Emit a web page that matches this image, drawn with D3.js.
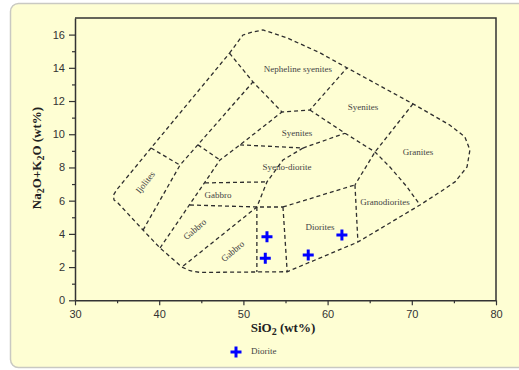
<!DOCTYPE html>
<html>
<head>
<meta charset="utf-8">
<script src="https://cdn.jsdelivr.net/npm/d3@7"></script>
<style>
  body { margin: 0; background: #fff; }
  svg { display: block; }
</style>
</head>
<body>
<div id="chart"></div>
<script>
// Tick values
const xMajor = [30, 40, 50, 60, 70, 80];
const xMinor = [35, 45, 55, 65, 75];
const yMajor = [0, 2, 4, 6, 8, 10, 12, 14, 16];
const yMinor = [1, 3, 5, 7, 9, 11, 13, 15];

// Diorite samples (SiO2, Na2O+K2O)
const dioriteSiO2 = [52.8, 52.6, 57.7, 61.7];
const dioriteAlk = [3.83, 2.53, 2.73, 3.93];

// Field boundaries, [SiO2, Na2O+K2O] pairs
const outerBoundary = [
  [48.35, 14.88], [49.95, 15.98], [51.1, 16.16], [52.33, 16.28], [55.2, 15.8],
  [59.1, 14.9], [62.3, 14.0], [70.14, 11.83], [74.5, 10.56], [76.3, 9.84],
  [76.9, 9.05], [76.56, 8.03], [75.13, 7.13], [73.35, 6.52], [70.97, 5.74],
  [63.6, 3.51], [55.2, 1.72], [44.85, 1.68], [43.66, 1.78], [42.7, 2.0],
  [40.1, 3.15], [38.08, 4.23], [35.1, 5.86], [34.63, 6.04], [34.57, 6.34],
  [34.93, 6.64], [39.03, 9.17], [48.35, 14.88]
];
const ijoliteRight = [[38.08, 4.23], [42.47, 8.14], [51.14, 13.15]];
const ijoliteTop = [[39.03, 9.17], [42.47, 8.14]];
const shortTie = [[44.6, 9.36], [47.22, 8.45]];
const gabbroLeft = [[40.1, 3.15], [47.22, 8.45], [49.6, 9.36], [54.58, 11.34]];
const nephelineBase = [[48.35, 14.88], [51.14, 13.15], [54.58, 11.34], [57.9, 11.46], [62.3, 14.0]];
const syeniteGranite = [[57.9, 11.46], [62.07, 10.06], [65.63, 8.93], [67.4, 8.03], [69.43, 6.83], [70.97, 5.74]];
const graniteLeft = [[70.14, 11.83], [65.63, 8.93], [63.25, 6.95]];
const granodioriteLeft = [[63.25, 6.95], [63.6, 3.51]];
const dioriteTop = [[54.7, 5.62], [63.25, 6.95]];
const dioriteLeft = [[54.7, 5.62], [55.2, 1.72]];
const gabbroDioriteLeft = [[51.6, 5.62], [51.6, 1.7]];
const gabbroBase = [[43.66, 5.74], [51.6, 5.62], [54.7, 5.62]];
const gabbroTop = [[45.44, 7.07], [52.8, 7.13]];
const syenodioriteRight = [[57.08, 9.17], [54.7, 8.45], [52.8, 7.13], [51.6, 5.62], [42.7, 2.0]];
const syeniteBase = [[49.6, 9.36], [57.08, 9.17], [62.07, 10.06]];

const boundaries = [outerBoundary, ijoliteRight, ijoliteTop, shortTie, gabbroLeft,
  nephelineBase, syeniteGranite, graniteLeft, granodioriteLeft, dioriteTop,
  dioriteLeft, gabbroDioriteLeft, gabbroBase, gabbroTop, syenodioriteRight, syeniteBase];

// Field names: text, SiO2, alkali, rotation
const fieldNames = ["Nepheline syenites", "Syenites", "Syenites", "Granites", "Syeno-diorite",
  "Gabbro", "Granodiorites", "Diorites", "Ijolites", "Gabbro", "Gabbro"];
const fieldX = [56.48, 64.2, 56.37, 70.74, 55.18, 46.98, 66.82, 59.1, 38.43, 44.3, 48.8];
const fieldY = [13.87, 11.58, 10.02, 8.87, 7.97, 6.28, 5.86, 4.36, 7.07, 4.23, 2.91];
const fieldRot = [0, 0, 0, 0, 0, 0, 0, 0, -52, -40, -40];

const W = 519, H = 370;
const margin = { top: 18, right: 23, bottom: 70, left: 75 };

const svg = d3.select("#chart").append("svg")
  .attr("width", W)
  .attr("height", H);

// Panel
svg.append("rect")
  .attr("x", 10.5).attr("y", 3.5)
  .attr("width", 540).attr("height", 364)
  .attr("rx", 8)
  .attr("fill", "#fefed3")
  .attr("stroke", "#c9c9c2")
  .attr("stroke-width", 1.5);

const x = d3.scaleLinear().domain([30, 80]).range([75, 496]);
const y = d3.scaleLinear().domain([0, 17]).range([300.3, 18]);

const fontSans = "'Liberation Sans', Arial, sans-serif";
const fontSerif = "'Liberation Serif', 'Times New Roman', serif";

// Minor ticks
svg.append("g")
  .attr("transform", "translate(0," + y(0) + ")")
  .call(d3.axisBottom(x).tickValues(xMinor).tickSize(3).tickFormat(""))
  .call(g => g.select(".domain").remove())
  .selectAll("line").attr("stroke", "#333").attr("stroke-width", 1.2);

svg.append("g")
  .attr("transform", "translate(" + x(30) + ",0)")
  .call(d3.axisLeft(y).tickValues(yMinor).tickSize(3).tickFormat(""))
  .call(g => g.select(".domain").remove())
  .selectAll("line").attr("stroke", "#333").attr("stroke-width", 1.2);

// Major ticks with labels
const xAxis = svg.append("g")
  .attr("transform", "translate(0," + y(0) + ")")
  .call(d3.axisBottom(x).tickValues(xMajor).tickSize(5).tickPadding(5).tickSizeOuter(0));
xAxis.selectAll("line").attr("stroke", "#333").attr("stroke-width", 1.2);
xAxis.selectAll("text")
  .attr("fill", "#333")
  .style("font-family", fontSans)
  .style("font-size", "11px");

const yAxis = svg.append("g")
  .attr("transform", "translate(" + x(30) + ",0)")
  .call(d3.axisLeft(y).tickValues(yMajor).tickSize(6).tickPadding(4).tickSizeOuter(0));
yAxis.selectAll("line").attr("stroke", "#333").attr("stroke-width", 1.2);
yAxis.selectAll("text")
  .attr("fill", "#333")
  .style("font-family", fontSans)
  .style("font-size", "11px");

svg.selectAll(".domain").attr("stroke", "#333").attr("stroke-width", 1.5);

// Frame top and right
svg.append("path")
  .attr("d", "M" + x(30) + "," + y(17) + "H" + x(80) + "V" + y(0))
  .attr("fill", "none")
  .attr("stroke", "#333")
  .attr("stroke-width", 1.5);

// Field boundaries
const line = d3.line()
  .x(d => x(d[0]))
  .y(d => y(d[1]));

svg.append("g")
  .selectAll("path")
  .data(boundaries)
  .enter().append("path")
  .attr("d", line)
  .attr("fill", "none")
  .attr("stroke", "#2e2e2e")
  .attr("stroke-width", 1.3)
  .attr("stroke-dasharray", "4,3");

// Field names
svg.append("g")
  .selectAll("text")
  .data(fieldNames)
  .enter().append("text")
  .attr("transform", (d, i) => "translate(" + x(fieldX[i]) + "," + y(fieldY[i]) + ") rotate(" + fieldRot[i] + ")")
  .attr("text-anchor", "middle")
  .attr("dominant-baseline", "middle")
  .attr("fill", "#444")
  .style("font-family", fontSerif)
  .style("font-size", "9px")
  .text(d => d);

// Samples
const cross = "M-5.5,0H5.5M0,-5.5V5.5";
svg.append("g")
  .selectAll("path")
  .data(dioriteSiO2)
  .enter().append("path")
  .attr("transform", (d, i) => "translate(" + x(d) + "," + y(dioriteAlk[i]) + ")")
  .attr("d", cross)
  .attr("stroke", "#0000ff")
  .attr("stroke-width", 3);

// Axis titles
const xTitle = svg.append("text")
  .attr("x", 283)
  .attr("y", 332)
  .attr("text-anchor", "middle")
  .attr("fill", "#222")
  .style("font-family", fontSerif)
  .style("font-size", "13px")
  .style("font-weight", "bold");
xTitle.append("tspan").text("SiO");
xTitle.append("tspan").attr("dy", 3).style("font-size", "10px").text("2");
xTitle.append("tspan").attr("dy", -3).text(" (wt%)");

const yTitle = svg.append("text")
  .attr("transform", "translate(41,158) rotate(-90)")
  .attr("text-anchor", "middle")
  .attr("fill", "#222")
  .style("font-family", fontSerif)
  .style("font-size", "13px")
  .style("font-weight", "bold");
yTitle.append("tspan").text("Na");
yTitle.append("tspan").attr("dy", 3).style("font-size", "10px").text("2");
yTitle.append("tspan").attr("dy", -3).text("O+K");
yTitle.append("tspan").attr("dy", 3).style("font-size", "10px").text("2");
yTitle.append("tspan").attr("dy", -3).text("O (wt%)");

// Legend
const legend = svg.append("g").attr("transform", "translate(236,352)");
legend.append("path")
  .attr("d", cross)
  .attr("stroke", "#0000ff")
  .attr("stroke-width", 3);
legend.append("text")
  .attr("x", 15)
  .attr("y", 0)
  .attr("dominant-baseline", "middle")
  .attr("fill", "#444")
  .style("font-family", fontSerif)
  .style("font-size", "9px")
  .text("Diorite");
</script>
</body>
</html>
